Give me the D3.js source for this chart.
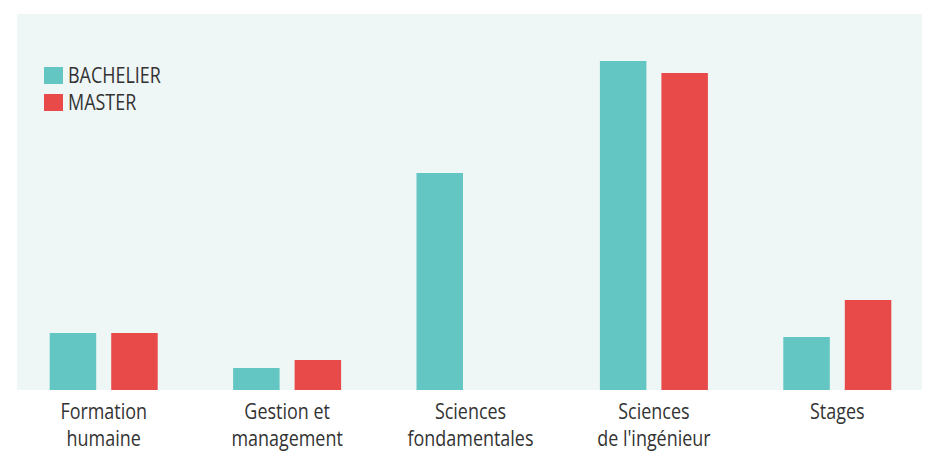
<!DOCTYPE html>
<html>
<head>
<meta charset="utf-8">
<script src="https://cdn.jsdelivr.net/npm/d3@7"></script>
<style>
  body { margin: 0; background: #fff; }
  text { font-family: "Open Sans", sans-serif; fill: #333; }
</style>
</head>
<body>
<div id="chart"></div>
<script>
var categories = [["Formation", "humaine"], ["Gestion et", "management"], ["Sciences", "fondamentales"], ["Sciences", "de l'ingénieur"], ["Stages"]];
var series = ["BACHELIER", "MASTER"];
var bachelier = [57, 22, 217, 329, 53];
var master = [57, 30, 0, 317, 90];
var colors = ["#63c6c3", "#e84a4a"];

var width = 929, height = 458;
var squeeze = 0.855; // the original face is narrower than Open Sans
var svg = d3.select('#chart').append('svg')
  .attr('width', width)
  .attr('height', height);

// panel background
svg.append('rect')
  .attr('x', 17).attr('y', 14)
  .attr('width', 905).attr('height', 376)
  .attr('fill', '#eef7f5');

var x0 = d3.scaleBand().domain(d3.range(categories.length)).range([12, 929]);
var x1 = d3.scaleBand().domain(series).range([0, 108]).paddingInner(0.244);
var y = d3.scaleLinear().domain([0, 350]).range([390, 40]);

var rows = categories.map(function (c, i) {
  return { i: i, values: [bachelier[i], master[i]] };
});

var groups = svg.selectAll('g.grp').data(rows)
  .enter().append('g')
  .attr('class', 'grp')
  .attr('transform', function (d) { return 'translate(' + (x0(d.i) + (x0.bandwidth() - 108) / 2) + ',0)'; });

groups.selectAll('rect').data(function (d) {
    return d.values.map(function (v, k) { return { s: series[k], v: v, c: colors[k] }; });
  })
  .enter().append('rect')
  .attr('x',      function (d) { return x1(d.s); })
  .attr('width',  x1.bandwidth())
  .attr('y',      function (d) { return y(d.v); })
  .attr('height', function (d) { return y(0) - y(d.v); })
  .attr('fill',   function (d) { return d.c; });

// category labels
var labels = svg.selectAll('text.cat').data(categories)
  .enter().append('text')
  .attr('class', 'cat')
  .attr('text-anchor', 'middle')
  .attr('font-size', 21)
  .attr('transform', function (d, i) {
    return 'translate(' + (x0(i) + x0.bandwidth() / 2) + ',419) scale(' + squeeze + ',1)';
  });
labels.selectAll('tspan').data(function (d) { return d; })
  .enter().append('tspan')
  .attr('x', 0)
  .attr('dy', function (d, k) { return k ? 27 : 0; })
  .text(function (d) { return d; });

// legend
var legend = svg.selectAll('g.leg').data(series)
  .enter().append('g')
  .attr('class', 'leg')
  .attr('transform', function (d, i) { return 'translate(44,' + (67 + i * 27) + ')'; });
legend.append('rect')
  .attr('width', 19).attr('height', 17)
  .attr('fill', function (d, i) { return colors[i]; });
legend.append('text')
  .attr('font-size', 21)
  .attr('transform', 'translate(24,16) scale(' + squeeze + ',1)')
  .text(function (d) { return d; });
</script>
</body>
</html>
